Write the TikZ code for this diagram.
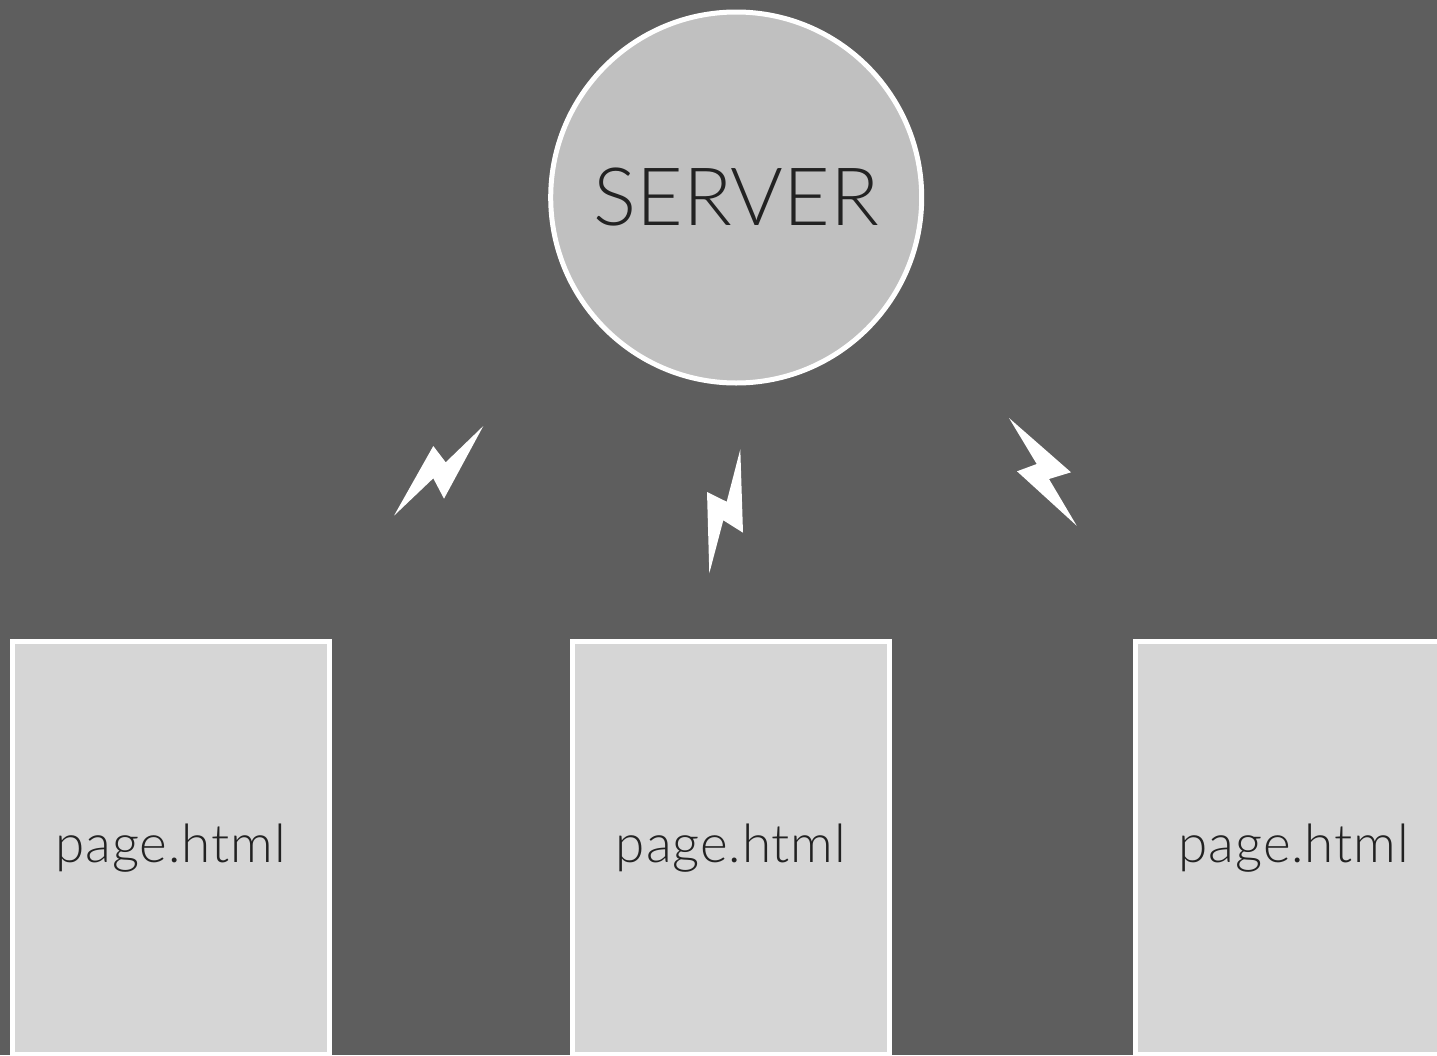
\documentclass[tikz,border=0pt]{standalone}
\usepackage{fontspec}
\setmainfont{Lato}[UprightFont=* Light]
\newfontfamily\pagefont{Lato}[UprightFont=* Light,LetterSpace=1.7]
\definecolor{bgc}{HTML}{5E5E5E}
\definecolor{srv}{HTML}{C0C0C0}
\definecolor{pg}{HTML}{D6D6D6}
\definecolor{txt}{HTML}{222222}
\tikzset{
  pagebox/.style={draw=white,line width=5pt,fill=pg,rectangle,minimum width=317.5pt,minimum height=413pt,inner sep=0pt,outer sep=0pt,text=txt,font=\pagefont\fontsize{53}{58}\selectfont},
  srvnode/.style={draw=white,line width=5pt,fill=srv,circle,minimum size=371pt,inner sep=0pt,outer sep=0pt,text=txt,font=\fontsize{80.5}{90}\selectfont},
  bolt/.style={fill=white,draw=none}
}
\begin{document}
\begin{tikzpicture}[x=1pt,y=-1pt]
\path[use as bounding box,fill=bgc] (0,0) rectangle (1437,1055);
\clip (0,0) rectangle (1437,1055);
\node[srvnode] (server) at (736.2,197.5) {SERVER};
\node[pagebox] (p1) at (170.75,848) {page.html};
\node[pagebox] (p2) at (731,848) {page.html};
\node[pagebox] (p3) at (1293.75,848) {page.html};
\fill[bolt] (483.3,426) -- (445.7,462.3) -- (433.3,446) -- (394,515.7) -- (433.3,478.3) -- (444,498.7) -- cycle;
\fill[bolt] (740.3,449.3) -- (743,532.7) -- (723.3,520.3) -- (709.3,573.3) -- (707,492) -- (726.7,501.7) -- cycle;
\fill[bolt] (1009,418) -- (1071,472.3) -- (1049,479) -- (1076.7,525.7) -- (1017,471.3) -- (1036.7,464) -- cycle;
\end{tikzpicture}
\end{document}
